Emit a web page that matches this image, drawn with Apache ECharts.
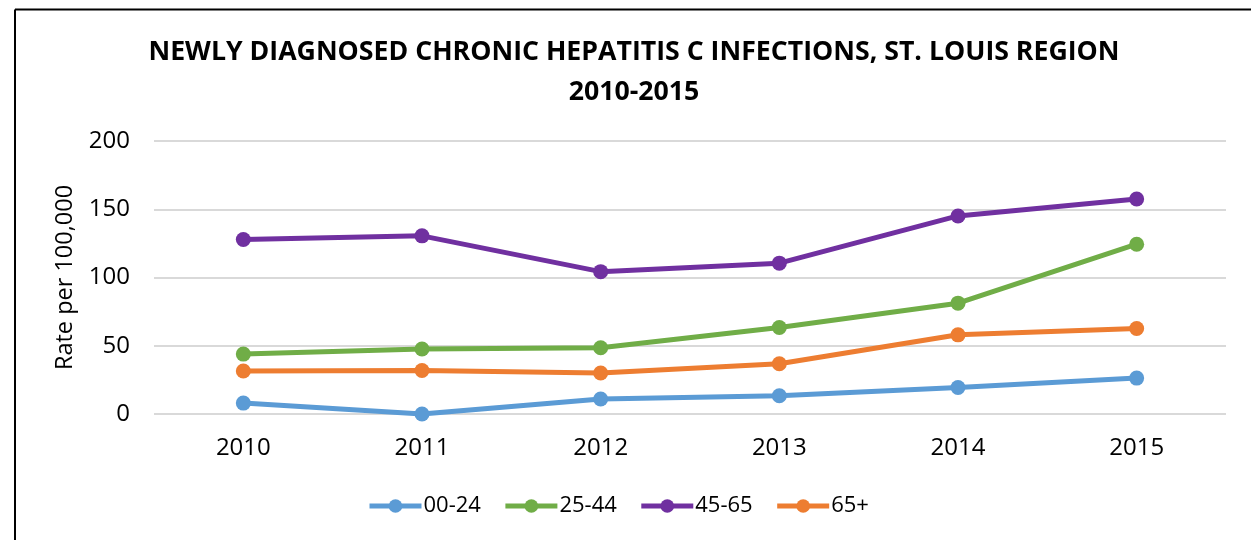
<!DOCTYPE html>
<html>
<head>
<meta charset="utf-8">
<script src="https://cdn.jsdelivr.net/npm/echarts@6/dist/echarts.min.js"></script>
<style>
  html, body { margin: 0; padding: 0; background: #fff; }
  #chart { width: 1251px; height: 540px; }
</style>
</head>
<body>
<div id="chart"></div>
<script>
// Newly diagnosed chronic hepatitis C, rate per 100,000 by age group
const years = ['2010', '2011', '2012', '2013', '2014', '2015'];
const age00to24 = [8, 0, 11, 13.4, 19.4, 26.3];
const age25to44 = [43.9, 47.6, 48.5, 63.4, 81.2, 124.4];
const age45to65 = [127.8, 130.5, 104.3, 110.5, 145.1, 157.5];
const age65plus = [31.5, 31.9, 30, 36.8, 58, 62.6];
const yTicks = [0, 50, 100, 150, 200];

const FONT = '"Open Sans", "Liberation Sans", sans-serif';

function lineSeries(name, data, color) {
  return {
    name: name,
    type: 'line',
    data: data,
    symbol: 'circle',
    symbolSize: 15,
    lineStyle: { width: 5, color: color },
    itemStyle: { color: color },
    emphasis: { disabled: true },
    animation: false
  };
}

const chart = echarts.init(document.getElementById('chart'), null, { renderer: 'canvas' });
chart.setOption({
  backgroundColor: '#ffffff',
  animation: false,
  title: {
    text: 'NEWLY DIAGNOSED CHRONIC HEPATITIS C INFECTIONS, ST. LOUIS REGION\n2010-2015',
    left: 629,
    top: 27,
    textAlign: 'center',
    textStyle: {
      fontFamily: FONT,
      fontSize: 26.7,
      fontWeight: 'bold',
      color: '#000000',
      lineHeight: 40,
      align: 'center'
    }
  },
  legend: {
    bottom: 18,
    left: 362,
    itemWidth: 52,
    itemHeight: 17,
    itemGap: 22,
    lineStyle: { width: 5 },
    textStyle: { fontFamily: FONT, fontSize: 22, color: '#000000', padding: [0, 0, 0, -3] },
    data: ['00-24', '25-44', '45-65', '65+']
  },
  grid: {
    left: 154,
    right: 25,
    top: 141,
    bottom: 126,
    containLabel: false
  },
  xAxis: {
    type: 'category',
    data: years,
    boundaryGap: true,
    axisLine: { show: false },
    axisTick: { show: false },
    axisLabel: { fontFamily: FONT, fontSize: 24, color: '#000000', margin: 22 }
  },
  yAxis: {
    type: 'value',
    min: yTicks[0],
    max: yTicks[yTicks.length - 1],
    interval: 50,
    name: 'Rate per 100,000',
    nameLocation: 'middle',
    nameGap: 77,
    nameTextStyle: { fontFamily: FONT, fontSize: 23.5, color: '#000000' },
    axisLine: { show: false },
    axisTick: { show: false },
    axisLabel: { fontFamily: FONT, fontSize: 24, color: '#000000', margin: 24 },
    splitLine: { lineStyle: { color: '#d9d9d9', width: 2 } }
  },
  graphic: [
    // chart frame (top and left edges)
    { type: 'line', shape: { x1: 15, y1: 9.5, x2: 1251, y2: 9.5 }, style: { stroke: '#000', lineWidth: 2 }, silent: true },
    { type: 'line', shape: { x1: 15, y1: 9.5, x2: 15, y2: 540 }, style: { stroke: '#000', lineWidth: 2 }, silent: true }
  ],
  series: [
    lineSeries('00-24', age00to24, '#5B9BD5'),
    lineSeries('25-44', age25to44, '#70AD47'),
    lineSeries('45-65', age45to65, '#7030A0'),
    lineSeries('65+', age65plus, '#ED7D31')
  ]
});
</script>
</body>
</html>
